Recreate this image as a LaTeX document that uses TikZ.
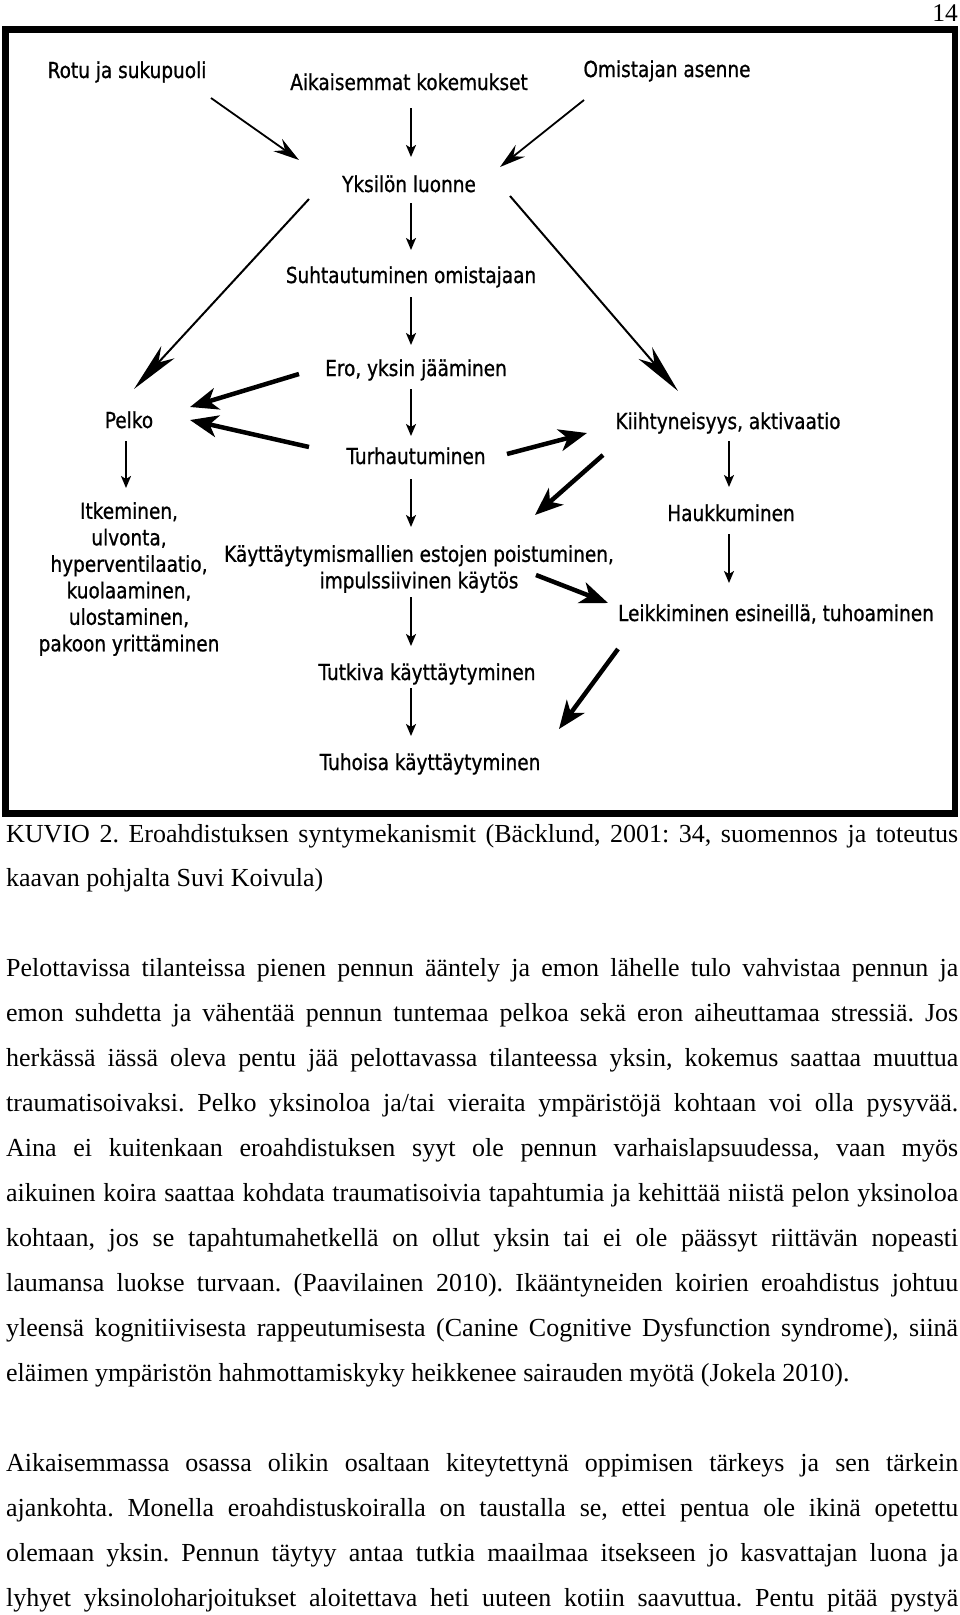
\documentclass[tikz,border=0pt]{standalone}
\usepackage{fontspec}
\usepackage{graphicx}
\setmainfont{Liberation Serif}
\newfontfamily\diagfont[FakeStretch=0.84,FakeBold=0.8]{DejaVu Sans}
\usetikzlibrary{arrows.meta}
\frenchspacing
\newsavebox\jlinebox
\newcommand\jline[1]{\sbox\jlinebox{#1}\ifdim\wd\jlinebox>952pt\relax\resizebox{952pt}{\height}{\usebox\jlinebox}\else\makebox[952pt][s]{#1}\fi}
\tikzset{
 lbl/.style={font=\diagfont\fontsize{22}{26.5}\selectfont, inner sep=0pt, text height=21pt, text depth=5pt},
 lbltwo/.style={font=\diagfont\fontsize{22}{26.5}\selectfont, inner sep=0pt, align=center},
 body/.style={font=\fontsize{26}{45}\selectfont, inner sep=0pt, anchor=base west},
 thinarr/.style={line width=1.8pt, -{Stealth[length=12pt,width=10pt,inset=3pt]}},
 toparr/.style={line width=1.8pt, -{Stealth[length=26pt,width=15pt,inset=9pt]}},
 longarr/.style={line width=2pt, -{Stealth[length=50pt,width=18pt,inset=14pt]}},
 thickarr/.style={line width=4.5pt, -{Stealth[length=28pt,width=22pt,inset=8pt]}},
}
\begin{document}
\begin{tikzpicture}[x=1pt,y=-1pt]
\fill[white] (0,0) rectangle (960,1615);
\useasboundingbox (0,0) rectangle (960,1615);
% page number
\node[font=\fontsize{25.5}{30}\selectfont, inner sep=0pt, anchor=base east] (pnum) at (958,21) {14};
% frame
\draw[line width=6.5pt] (5.5,29.5) rectangle (954.75,813.5);
% labels
\node[lbl] (rotu) at (127,70) {Rotu ja sukupuoli};
\node[lbl] (aik) at (409,82) {Aikaisemmat kokemukset};
\node[lbl] (omis) at (667,69) {Omistajan asenne};
\node[lbl] (yks) at (409,184) {Yksilön luonne};
\node[lbl] (suh) at (411,275) {Suhtautuminen omistajaan};
\node[lbl] (ero) at (416,368) {Ero, yksin jääminen};
\node[lbl] (turh) at (416,456) {Turhautuminen};
\node[lbltwo] (kayt) at (419,569) {Käyttäytymismallien estojen poistuminen,\\impulssiivinen käytös};
\node[lbl] (tutk) at (427,672) {Tutkiva käyttäytyminen};
\node[lbl] (tuh) at (430,762) {Tuhoisa käyttäytyminen};
\node[lbl] (pelko) at (129,420) {Pelko};
\node[lbltwo] (itk) at (129,579) {Itkeminen,\\ulvonta,\\hyperventilaatio,\\kuolaaminen,\\ulostaminen,\\pakoon yrittäminen};
\node[lbl] (kiiht) at (728,421) {Kiihtyneisyys, aktivaatio};
\node[lbl] (hauk) at (731,513) {Haukkuminen};
\node[lbl] (leik) at (776,613) {Leikkiminen esineillä, tuhoaminen};
% arrows
\draw[toparr] ([shift={(84,28)}]rotu.center) -- ([shift={(-110,-24)}]yks.center);
\draw[thinarr] ([shift={(2,26)}]aik.center) -- ([shift={(2,-27)}]yks.center);
\draw[toparr] ([shift={(-83,31)}]omis.center) -- ([shift={(91,-17)}]yks.center);
\draw[thinarr] ([shift={(2,19)}]yks.center) -- ([shift={(0,-25)}]suh.center);
\draw[thinarr] ([shift={(0,22)}]suh.center) -- ([shift={(-5,-23)}]ero.center);
\draw[thinarr] ([shift={(-5,21)}]ero.center) -- ([shift={(-5,-20)}]turh.center);
\draw[thinarr] ([shift={(-5,23)}]turh.center) -- ([shift={(-8,-42)}]kayt.center);
\draw[thinarr] ([shift={(-8,28)}]kayt.center) -- ([shift={(-16,-26)}]tutk.center);
\draw[thinarr] ([shift={(-16,16)}]tutk.center) -- ([shift={(-19,-26)}]tuh.center);
\draw[longarr] ([shift={(-100,15)}]yks.center) -- ([shift={(5,-31)}]pelko.center);
\draw[longarr] ([shift={(101,12)}]yks.center) -- ([shift={(-50,-30)}]kiiht.center);
\draw[thickarr] ([shift={(-117,6)}]ero.center) -- ([shift={(61,-13)}]pelko.center);
\draw[thickarr] ([shift={(-107,-9)}]turh.center) -- ([shift={(61,0)}]pelko.center);
\draw[thinarr] ([shift={(-3,21)}]pelko.center) -- ([shift={(-3,-91)}]itk.center);
\draw[thickarr] ([shift={(91,-2)}]turh.center) -- ([shift={(-141,12)}]kiiht.center);
\draw[thickarr] ([shift={(-125,34)}]kiiht.center) -- ([shift={(116,-54)}]kayt.center);
\draw[thinarr] ([shift={(1,20)}]kiiht.center) -- ([shift={(-2,-26)}]hauk.center);
\draw[thinarr] ([shift={(-2,21)}]hauk.center) -- ([shift={(-47,-30)}]leik.center);
\draw[thickarr] ([shift={(117,6)}]kayt.center) -- ([shift={(-168,-10)}]leik.center);
\draw[thickarr] ([shift={(-158,36)}]leik.center) -- ([shift={(129,-33)}]tuh.center);
% caption
\node[body] (c1) at (6,842) {\jline{KUVIO 2. Eroahdistuksen syntymekanismit (Bäcklund, 2001: 34, suomennos ja toteutus}};
\node[body] (c2) at (6,886) {kaavan pohjalta Suvi Koivula)};
% paragraph 1
\node[body] (p1) at (6,976.5) {\jline{Pelottavissa tilanteissa pienen pennun ääntely ja emon lähelle tulo vahvistaa pennun ja}};
\node[body] (p2) at (6,1021.5) {\jline{emon suhdetta ja vähentää pennun tuntemaa pelkoa sekä eron aiheuttamaa stressiä. Jos}};
\node[body] (p3) at (6,1066.5) {\jline{herkässä iässä oleva pentu jää pelottavassa tilanteessa yksin, kokemus saattaa muuttua}};
\node[body] (p4) at (6,1111.5) {\jline{traumatisoivaksi. Pelko yksinoloa ja/tai vieraita ympäristöjä kohtaan voi olla pysyvää.}};
\node[body] (p5) at (6,1156.5) {\jline{Aina ei kuitenkaan eroahdistuksen syyt ole pennun varhaislapsuudessa, vaan myös}};
\node[body] (p6) at (6,1201.5) {\jline{aikuinen koira saattaa kohdata traumatisoivia tapahtumia ja kehittää niistä pelon yksinoloa}};
\node[body] (p7) at (6,1246.5) {\jline{kohtaan, jos se tapahtumahetkellä on ollut yksin tai ei ole päässyt riittävän nopeasti}};
\node[body] (p8) at (6,1291.5) {\jline{laumansa luokse turvaan. (Paavilainen 2010). Ikääntyneiden koirien eroahdistus johtuu}};
\node[body] (p9) at (6,1336.5) {\jline{yleensä kognitiivisesta rappeutumisesta (Canine Cognitive Dysfunction syndrome), siinä}};
\node[body] (p10) at (6,1381.5) {eläimen ympäristön hahmottamiskyky heikkenee sairauden myötä (Jokela 2010).};
% paragraph 2
\node[body] (q1) at (6,1471) {\jline{Aikaisemmassa osassa olikin osaltaan kiteytettynä oppimisen tärkeys ja sen tärkein}};
\node[body] (q2) at (6,1516) {\jline{ajankohta. Monella eroahdistuskoiralla on taustalla se, ettei pentua ole ikinä opetettu}};
\node[body] (q3) at (6,1561) {\jline{olemaan yksin. Pennun täytyy antaa tutkia maailmaa itsekseen jo kasvattajan luona ja}};
\node[body] (q4) at (6,1606) {\jline{lyhyet yksinoloharjoitukset aloitettava heti uuteen kotiin saavuttua. Pentu pitää pystyä}};
\end{tikzpicture}
\end{document}
